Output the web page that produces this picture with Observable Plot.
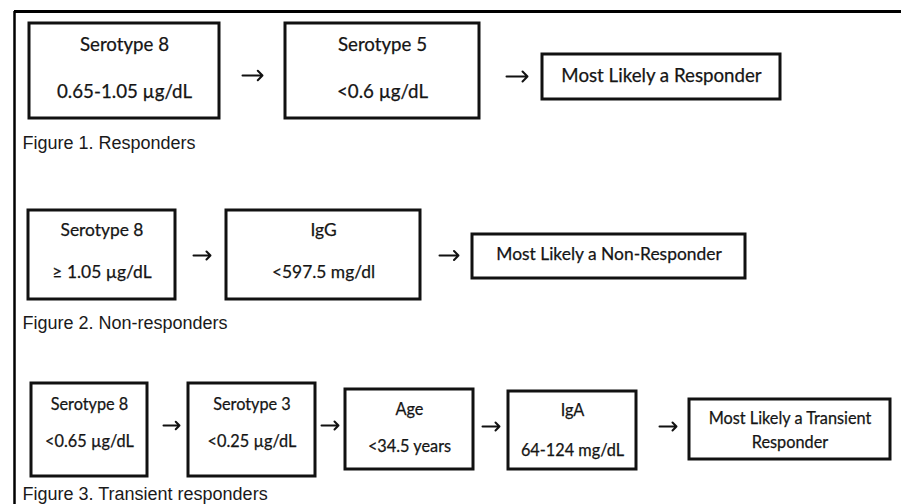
<!DOCTYPE html>
<html>
<head>
<meta charset="utf-8">
<script src="https://cdn.jsdelivr.net/npm/d3@7"></script>
<script src="https://cdn.jsdelivr.net/npm/@observablehq/plot@0.6"></script>
<style>
  html, body { margin: 0; padding: 0; background: #fff; overflow: hidden; }
  svg { display: block; }
</style>
</head>
<body>
<div id="chart"></div>
<script>
// ---- content ----
const captions = ["Figure 1. Responders", "Figure 2. Non-responders", "Figure 3. Transient responders"];
const nodeRow = [1, 1, 1, 2, 2, 2, 3, 3, 3, 3, 3];
const nodeTitle = ["Serotype 8", "Serotype 5", "Most Likely a Responder",
                   "Serotype 8", "IgG", "Most Likely a Non-Responder",
                   "Serotype 8", "Serotype 3", "Age", "IgA", "Most Likely a Transient"];
const nodeValue = ["0.65-1.05 µg/dL", "<0.6 µg/dL", "",
                   "≥ 1.05 µg/dL", "<597.5 mg/dl", "",
                   "<0.65 µg/dL", "<0.25 µg/dL", "<34.5 years", "64-124 mg/dL", "Responder"];

// ---- layout (diagram units = pixels of the page) ----
const boxX1 = [29, 285, 542, 28, 226, 472, 31, 188, 345, 508, 689];
const boxX2 = [219, 479, 780, 175, 420, 745, 147, 315, 473, 636, 890];
const boxY1 = [23, 23, 54, 210, 210, 234, 383, 383, 389, 391, 399];
const boxY2 = [118, 118, 99, 299, 299, 278, 476, 476, 469, 469, 459];
const titleY = [45, 45, 76, 230, 230, 254, 404, 404, 409, 410, 418];
const valueY = [92, 92, 0, 272, 272, 0, 441, 441, 446, 450, 442];
const rowFontSize = {1: 18.7, 2: 17.4, 3: 16.3};
const captionY = [143, 323, 494];
const arrowX1 = [242, 506, 193, 439, 163, 321, 482, 659];
const arrowX2 = [262, 527, 210, 458, 179, 338, 499, 676];
const arrowY = [75, 76, 255, 255, 425, 425, 426, 426];

const nodes = nodeTitle.map((t, i) => ({
  row: nodeRow[i], title: t, value: nodeValue[i],
  x1: boxX1[i], x2: boxX2[i], y1: boxY1[i], y2: boxY2[i],
  cx: (boxX1[i] + boxX2[i]) / 2, ty: titleY[i], vy: valueY[i],
  fs: rowFontSize[nodeRow[i]]
}));
const valueNodes = nodes.filter(d => d.value !== "");
const arrows = arrowX1.map((x, i) => ({x1: x, x2: arrowX2[i], y: arrowY[i]}));
const caps = captions.map((c, i) => ({text: c, y: captionY[i]}));

const boxFont = "Lato, 'Open Sans', sans-serif";
const capFont = "'Liberation Sans', Arial, sans-serif";

const chart = Plot.plot({
  width: 901,
  height: 504,
  margin: 0,
  x: {domain: [0, 901], axis: null},
  y: {domain: [0, 504], reverse: true, axis: null},
  marks: [
    Plot.ruleY([11], {x1: 14, x2: 901, stroke: "#000", strokeWidth: 3}),
    Plot.ruleX([14], {y1: 11, y2: 504, stroke: "#000", strokeWidth: 2.5}),
    Plot.rect(nodes, {x1: "x1", x2: "x2", y1: "y1", y2: "y2", fill: "#fff", stroke: "#111", strokeWidth: 3}),
    Plot.text(nodes, {x: "cx", y: "ty", text: "title", fontSize: d => d.fs, fontFamily: boxFont, fill: "#151515", stroke: "#151515", strokeWidth: 0.25}),
    Plot.text(valueNodes, {x: "cx", y: "vy", text: "value", fontSize: d => d.fs, fontFamily: boxFont, fill: "#151515", stroke: "#151515", strokeWidth: 0.25}),
    Plot.arrow(arrows, {x1: "x1", x2: "x2", y1: "y", y2: "y", stroke: "#111", strokeWidth: 2, headLength: 12, headAngle: 90}),
    Plot.text(caps, {x: 22, y: "y", text: "text", textAnchor: "start", fontFamily: capFont, fontSize: 18, fill: "#1a1a1a"})
  ]
});
document.getElementById("chart").append(chart);
</script>
</body>
</html>
